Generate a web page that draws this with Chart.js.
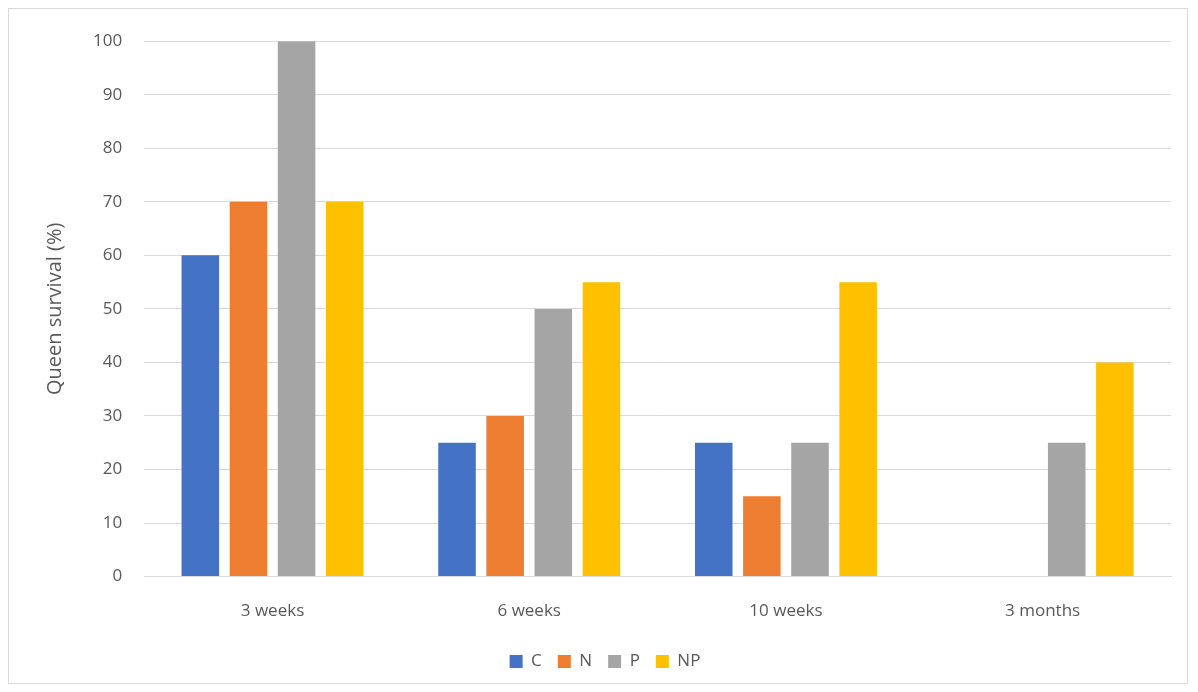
<!DOCTYPE html>
<html>
<head>
<meta charset="utf-8">
<script src="https://cdn.jsdelivr.net/npm/chart.js@4"></script>
<style>
  html, body { margin: 0; padding: 0; background: #fff; }
  #frame {
    position: absolute; left: 8px; top: 8px; width: 1180px; height: 676px;
    border: 1px solid #d9d9d9; box-sizing: border-box;
  }
  canvas { display: block; }
</style>
</head>
<body>
<div id="frame"><canvas id="chart"></canvas></div>
<script>
// Chart data
const categories = ['3 weeks', '6 weeks', '10 weeks', '3 months'];
const seriesC = [60, 25, 25, 0];
const seriesN = [70, 30, 15, 0];
const seriesP = [100, 50, 25, 25];
const seriesNP = [70, 55, 55, 40];
const yTicks = [0, 10, 20, 30, 40, 50, 60, 70, 80, 90, 100];

const textColor = '#595959';
const font = { family: "'Open Sans', sans-serif", size: 17 };

function makeSet(label, data, color) {
    return {
        label: label,
        data: data,
        backgroundColor: color,
        borderWidth: 0,
        barPercentage: 0.78,
        categoryPercentage: 0.75
    };
}

new Chart(document.getElementById('chart'), {
    type: 'bar',
    data: {
        labels: categories,
        datasets: [
            makeSet('C', seriesC, '#4472c4'),
            makeSet('N', seriesN, '#ed7d31'),
            makeSet('P', seriesP, '#a5a5a5'),
            makeSet('NP', seriesNP, '#ffc000')
        ]
    },
    options: {
        responsive: true,
        maintainAspectRatio: false,
        animation: false,
        layout: { padding: { left: 30, right: 16, top: 21, bottom: 3 } },
        plugins: {
            legend: {
                position: 'bottom',
                labels: {
                    color: textColor,
                    font: font,
                    boxWidth: 13,
                    boxHeight: 13,
                    padding: 16
                }
            },
            tooltip: { enabled: false }
        },
        scales: {
            y: {
                min: 0,
                max: 100,
                afterBuildTicks: axis => { axis.ticks = yTicks.map(v => ({ value: v })); },
                ticks: { color: textColor, font: font, padding: 22 },
                grid: { color: '#d9d9d9', drawTicks: false },
                border: { display: false },
                title: {
                    display: true,
                    text: 'Queen survival (%)',
                    color: textColor,
                    font: { family: "'Open Sans', sans-serif", size: 20 }
                }
            },
            x: {
                ticks: { color: textColor, font: font, padding: 16 },
                grid: { display: false },
                border: { color: '#d9d9d9' }
            }
        }
    }
});
</script>
</body>
</html>
